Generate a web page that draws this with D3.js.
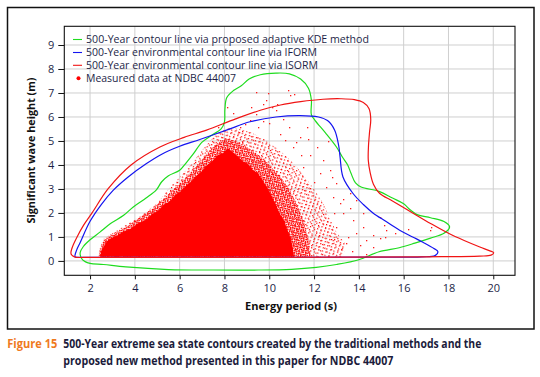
<!DOCTYPE html>
<html>
<head>
<meta charset="utf-8">
<script src="https://cdn.jsdelivr.net/npm/d3@7"></script>
<style>
  body { margin: 0; background: #fff; }
  svg { display: block; font-family: "Open Sans", "Noto Sans", sans-serif; }
</style>
</head>
<body>
<svg width="540" height="377"></svg>
<script>
// Tick values
const xTicks = [2, 4, 6, 8, 10, 12, 14, 16, 18, 20];
const yTicks = [0, 1, 2, 3, 4, 5, 6, 7, 8, 9];

// 500-year contours [energy period, Hs]
const kdeContour = [
  [1.62, 0.1], [1.56, 0.35], [1.7, 0.6], [2.0, 0.88], [2.44, 1.2], [2.9, 1.55], [3.5, 1.9],
  [3.93, 2.25], [4.5, 2.62], [4.95, 2.95], [5.2, 3.3], [5.5, 3.55], [6.0, 3.78], [6.3, 4.1],
  [6.6, 4.45], [7.0, 4.95], [7.45, 5.25], [7.85, 5.5], [8.0, 5.8], [8.02, 6.3], [8.1, 6.8],
  [8.4, 7.1], [8.75, 7.3], [9.1, 7.58], [9.6, 7.76], [10.3, 7.83], [10.9, 7.8], [11.4, 7.58],
  [11.75, 7.2], [11.88, 6.7], [11.88, 6.1], [12.05, 5.85], [12.5, 5.35], [13.0, 4.75],
  [13.25, 4.35], [13.5, 4.0], [13.65, 3.65], [13.85, 3.25], [14.1, 3.08], [14.9, 2.9],
  [15.5, 2.62], [16.0, 2.38], [16.3, 2.12], [16.6, 1.93], [17.2, 1.8], [17.8, 1.64],
  [18.05, 1.42], [17.8, 1.15], [17.2, 0.95], [16.5, 0.74], [15.8, 0.55], [14.9, 0.38],
  [14.0, 0.05], [13.0, -0.15], [12.1, -0.27], [11.0, -0.35], [9.5, -0.38], [7.5, -0.38],
  [5.5, -0.36], [3.6, -0.25], [2.6, -0.15], [2.0, -0.1], [1.78, -0.03]
];
const iformContour = [
  [1.33, 0.17], [1.4, 0.45], [1.55, 0.75], [2.0, 1.65], [2.5, 2.35], [3.04, 2.95],
  [3.7, 3.5], [4.52, 4.06], [5.2, 4.45], [6.0, 4.78], [6.9, 5.06], [8.09, 5.45],
  [9.14, 5.8], [10.3, 6.0], [11.37, 6.06], [12.2, 6.0], [12.6, 5.85], [12.92, 5.45],
  [13.1, 4.8], [13.16, 4.34], [13.29, 3.5], [13.74, 2.81], [14.2, 2.35], [14.63, 2.0],
  [15.2, 1.65], [15.82, 1.28], [16.4, 1.0], [16.86, 0.78], [17.35, 0.52], [17.53, 0.38],
  [17.4, 0.22], [16.8, 0.17], [14.0, 0.16], [8.0, 0.15], [3.0, 0.15], [1.5, 0.15]
];
const isormContour = [
  [1.15, 0.3], [1.2, 0.55], [1.42, 1.0], [1.72, 1.5], [2.09, 2.0], [2.8, 3.0],
  [3.83, 4.0], [5.12, 4.75], [6.2, 5.15], [7.2, 5.45], [8.5, 5.92], [9.6, 6.28],
  [10.5, 6.5], [11.4, 6.64], [12.4, 6.74], [13.2, 6.76], [13.8, 6.72], [14.2, 6.6],
  [14.45, 6.35], [14.53, 5.9], [14.48, 5.4], [14.43, 4.8], [14.42, 4.2], [14.5, 3.7],
  [14.65, 3.2], [14.92, 2.82], [15.5, 2.5], [16.4, 2.0], [17.2, 1.56], [18.0, 1.15],
  [18.7, 0.85], [19.4, 0.58], [19.85, 0.42], [20.02, 0.34], [19.9, 0.24], [19.4, 0.2],
  [17.0, 0.17], [10.0, 0.15], [5.0, 0.15], [2.0, 0.15], [1.3, 0.17]
];

// Measured data at NDBC 44007: solid core, dense band, thin band, sparse outliers
const denseCore = [
  [2.45, 0.17], [2.5, 0.42], [2.62, 0.6], [2.75, 0.82], [2.95, 0.95], [3.25, 1.08], [3.45, 1.2],
  [3.85, 1.35], [4.1, 1.55], [4.5, 1.72], [4.75, 1.95], [5.05, 2.1], [5.3, 2.35], [5.55, 2.48],
  [5.8, 2.75], [6.05, 2.9], [6.3, 3.15], [6.5, 3.3], [6.75, 3.55], [7.0, 3.75], [7.2, 3.98],
  [7.45, 4.15], [7.7, 4.4], [7.95, 4.5], [8.15, 4.7], [8.35, 4.55], [8.6, 4.35], [8.8, 4.15],
  [9.05, 4.05], [9.25, 3.8], [9.5, 3.65], [9.7, 3.35], [9.95, 3.0], [10.1, 2.7], [10.3, 2.35],
  [10.45, 2.0], [10.65, 1.7], [10.8, 1.3], [10.95, 0.95], [11.05, 0.55], [11.1, 0.17]
];
const denseBand = [
  [2.38, 0.15], [2.45, 0.5], [2.6, 0.85], [3.0, 1.1], [3.6, 1.4], [4.2, 1.8], [4.8, 2.2],
  [5.3, 2.6], [5.8, 3.05], [6.3, 3.5], [6.8, 4.0], [7.2, 4.45], [7.6, 4.85], [8.05, 5.1],
  [8.5, 5.0], [8.9, 4.8], [9.4, 4.5], [9.9, 4.1], [10.4, 3.6], [10.9, 3.0], [11.25, 2.3],
  [11.55, 1.6], [11.75, 0.9], [11.85, 0.17]
];
const thinBand = [
  [2.35, 0.15], [2.42, 0.5], [2.58, 0.9], [3.0, 1.15], [3.6, 1.5], [4.3, 1.9], [5.0, 2.4],
  [5.5, 3.0], [6.0, 3.5], [6.5, 4.0], [6.9, 4.5], [7.3, 4.95], [7.7, 5.35], [8.2, 5.55],
  [8.7, 5.5], [9.2, 5.35], [9.8, 5.05], [10.4, 4.65], [11.0, 4.15], [11.5, 3.6], [12.0, 3.0],
  [12.4, 2.4], [12.7, 1.8], [13.0, 1.2], [13.4, 0.7], [13.3, 0.15]
];
const sparsePoints = [
  [9.43, 7.05], [9.95, 6.98], [10.84, 7.12], [10.92, 6.91], [11.1, 6.97], [9.86, 6.69],
  [10.33, 6.54], [9.73, 6.56], [10.1, 6.42], [10.32, 6.28], [8.39, 6.15], [9.4, 6.11],
  [9.13, 5.87], [9.71, 5.82], [8.69, 5.59], [10.47, 5.31], [11.36, 5.17], [11.73, 5.1],
  [8.63, 5.39], [8.8, 4.95], [11.06, 4.75], [12.11, 4.75], [11.81, 4.41], [12.4, 4.2],
  [11.51, 3.92], [12.7, 3.78], [12.26, 3.65], [13.0, 3.23], [12.55, 3.09], [13.59, 2.81],
  [12.85, 2.67], [13.89, 2.53], [13.15, 2.4], [13.29, 1.98], [14.93, 1.84], [13.74, 1.7],
  [13.0, 1.42], [14.19, 1.42], [15.11, 1.49], [17.24, 1.42], [16.2, 1.35], [15.23, 1.28],
  [17.16, 1.28], [13.89, 1.15], [15.6, 1.15], [14.63, 1.08], [15.15, 1.0], [14.93, 0.94],
  [14.34, 0.87], [13.44, 0.73], [14.04, 0.66], [14.63, 0.59], [10.6, 5.9], [9.2, 6.4],
  [8.9, 5.7], [10.9, 5.6], [11.4, 4.4], [12.0, 3.3], [12.9, 2.0], [13.5, 1.0], [14.2, 2.0],
  [13.7, 0.4], [14.3, 0.3], [12.6, 5.0], [11.7, 5.6], [7.7, 5.6], [8.1, 6.4], [10.0, 5.75],
  [9.5, 5.6], [10.7, 5.05], [11.2, 4.95], [12.8, 3.5], [13.3, 2.6], [13.6, 2.2], [12.2, 1.1],
  [13.2, 0.5], [12.9, 0.9]
];

const legendLabels = [
  "500-Year contour line via proposed adaptive KDE method",
  "500-Year environmental contour line via IFORM",
  "500-Year environmental contour line via ISORM",
  "Measured data at NDBC 44007"
];
const colors = ["#1fdc1f", "#1414f0", "#f01414", "#ff0000"];

const svg = d3.select("svg");
const textCol = "#1d1f48";

// outer frame
svg.append("rect")
  .attr("x", 7.5).attr("y", 7.5).attr("width", 526.5).attr("height", 321.5)
  .attr("fill", "none").attr("stroke", "#111").attr("stroke-width", 1.5);

const plot = { left: 64.3, right: 515, top: 26.3, bottom: 275.3 };
const x = d3.scaleLinear().domain([0.85, 20.97]).range([plot.left, plot.right]);
const y = d3.scaleLinear().domain([-0.6, 9.78]).range([plot.bottom, plot.top]);

// grid
const grid = svg.append("g").attr("stroke", "#cfcfcf").attr("stroke-width", 1);
grid.selectAll(".gx").data(xTicks).join("line")
  .attr("x1", d => x(d)).attr("x2", d => x(d))
  .attr("y1", plot.top).attr("y2", plot.bottom);
grid.selectAll(".gy").data(yTicks).join("line")
  .attr("y1", d => y(d)).attr("y2", d => y(d))
  .attr("x1", plot.left).attr("x2", plot.right);

// dot textures for the scatter density bands
const defs = svg.append("defs");
function dotPattern(id, w, h, s, rot) {
  const p = defs.append("pattern").attr("id", id)
    .attr("patternUnits", "userSpaceOnUse").attr("width", w).attr("height", h)
    .attr("patternTransform", `rotate(${rot})`);
  p.append("rect").attr("width", s).attr("height", s).attr("fill", "#ff0000");
}
dotPattern("thinA", 3.7, 3.3, 1.2, 17);
dotPattern("thinB", 5.1, 4.3, 1.2, -29);
dotPattern("denseA", 2.2, 2.2, 1.3, 11);
dotPattern("denseB", 2.9, 2.6, 1.3, -21);

const area = d3.line().x(d => x(d[0])).y(d => y(d[1])).curve(d3.curveLinearClosed);
svg.append("path").datum(thinBand).attr("d", area).attr("fill", "url(#thinA)");
svg.append("path").datum(thinBand).attr("d", area).attr("fill", "url(#thinB)");
svg.append("path").datum(denseBand).attr("d", area).attr("fill", "url(#denseA)");
svg.append("path").datum(denseBand).attr("d", area).attr("fill", "url(#denseB)");
svg.append("path").datum(denseCore).attr("d", area).attr("fill", "#ff0000");

svg.append("g").selectAll("rect").data(sparsePoints).join("rect")
  .attr("x", d => Math.round(x(d[0]))).attr("y", d => Math.round(y(d[1])))
  .attr("width", 1.3).attr("height", 1.3).attr("fill", "#ff1a1a");

// contours
const contourLine = d3.line().x(d => x(d[0])).y(d => y(d[1])).curve(d3.curveCatmullRomClosed.alpha(0.5));
[kdeContour, iformContour, isormContour].forEach((c, i) => {
  svg.append("path").datum(c).attr("d", contourLine)
    .attr("fill", "none").attr("stroke", colors[i]).attr("stroke-width", 1.2);
});

// plot box
svg.append("rect")
  .attr("x", plot.left).attr("y", plot.top)
  .attr("width", plot.right - plot.left).attr("height", plot.bottom - plot.top)
  .attr("fill", "none").attr("stroke", "#111").attr("stroke-width", 1.1);

// axes
const xAxis = svg.append("g").attr("transform", `translate(0,${plot.bottom})`)
  .call(d3.axisBottom(x).tickValues(xTicks).tickSizeInner(4).tickSizeOuter(0).tickPadding(5));
const yAxis = svg.append("g").attr("transform", `translate(${plot.left},0)`)
  .call(d3.axisLeft(y).tickValues(yTicks).tickSizeInner(6).tickSizeOuter(0).tickPadding(4));
[xAxis, yAxis].forEach(a => {
  a.select(".domain").remove();
  a.selectAll("line").attr("stroke", "#111");
  a.selectAll("text").attr("fill", textCol).style("font-size", "11px")
    .style("font-family", "'Open Sans', sans-serif");
});

// axis titles
svg.append("text").attr("x", 291).attr("y", 309.5).attr("text-anchor", "middle")
  .attr("fill", "#111").style("font-size", "11px").style("font-weight", "bold")
  .attr("textLength", 92).attr("lengthAdjust", "spacingAndGlyphs")
  .text("Energy period (s)");
svg.append("text").attr("transform", "translate(35,150.5) rotate(-90)")
  .attr("text-anchor", "middle")
  .attr("fill", "#111").style("font-size", "11px").style("font-weight", "bold")
  .attr("textLength", 146).attr("lengthAdjust", "spacingAndGlyphs")
  .text("Significant wave height (m)");

// legend
const legendY = [39.5, 52.5, 65.3, 78.3];
const legendW = [283, 231, 232, 150];
const lg = svg.append("g");
legendLabels.forEach((t, i) => {
  if (i < 3) {
    lg.append("line").attr("x1", 73).attr("x2", 82)
      .attr("y1", legendY[i]).attr("y2", legendY[i])
      .attr("stroke", colors[i]).attr("stroke-width", 1.1);
  } else {
    lg.append("circle").attr("cx", 78.5).attr("cy", legendY[i]).attr("r", 2)
      .attr("fill", colors[i]);
  }
  lg.append("text").attr("x", 86).attr("y", legendY[i] + 3.8)
    .attr("fill", textCol).style("font-size", "10.5px")
    .attr("textLength", legendW[i]).attr("lengthAdjust", "spacingAndGlyphs")
    .text(t);
});

// caption
const cap = svg.append("g").style("font-size", "11.5px").style("font-weight", "bold");
cap.append("text").attr("x", 7.3).attr("y", 348).attr("fill", "#ef7a1e")
  .attr("textLength", 50).attr("lengthAdjust", "spacingAndGlyphs").text("Figure 15");
cap.append("text").attr("x", 63.3).attr("y", 348).attr("fill", "#1c1c3c")
  .attr("textLength", 418).attr("lengthAdjust", "spacingAndGlyphs")
  .text("500-Year extreme sea state contours created by the traditional methods and the");
cap.append("text").attr("x", 63.3).attr("y", 365).attr("fill", "#1c1c3c")
  .attr("textLength", 330).attr("lengthAdjust", "spacingAndGlyphs")
  .text("proposed new method presented in this paper for NDBC 44007");
</script>
</body>
</html>
